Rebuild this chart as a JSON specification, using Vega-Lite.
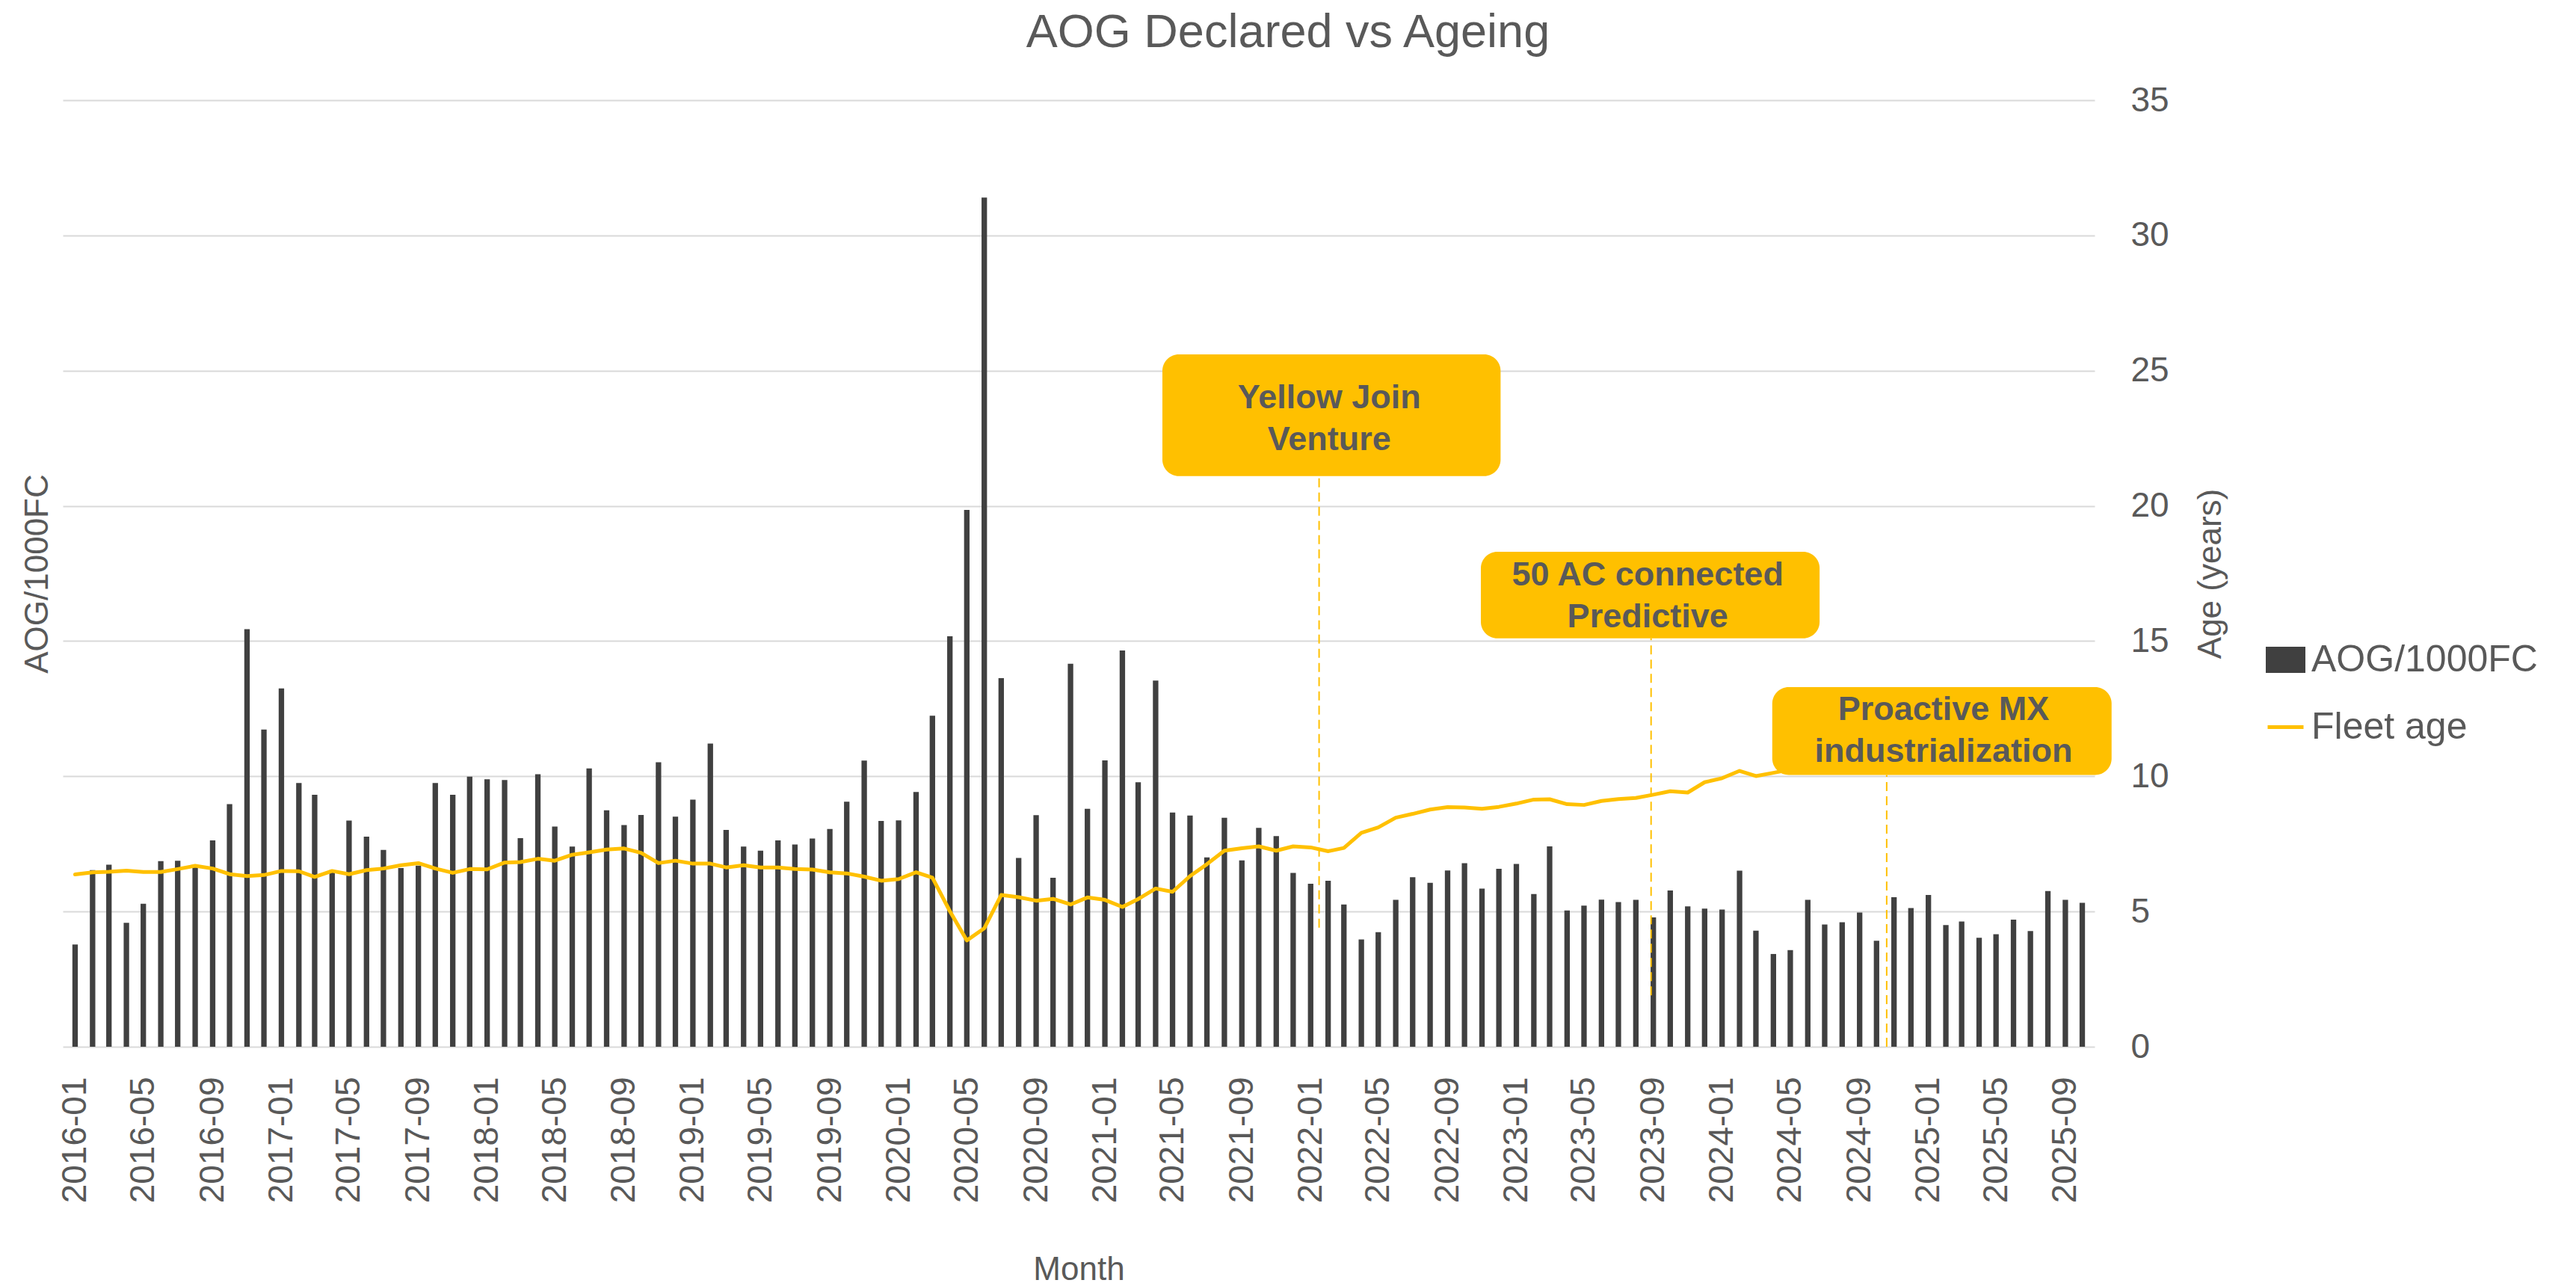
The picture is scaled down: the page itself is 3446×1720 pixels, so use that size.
{
  "$schema": "https://vega.github.io/schema/vega-lite/v6.json",
  "autosize": {"type": "none"},
  "width": 2718,
  "height": 1266,
  "padding": {"left": 84, "top": 134, "right": 644, "bottom": 320},
  "background": "white",
  "title": {"text": "AOG Declared vs Ageing", "frame": "group", "anchor": "middle", "dx": 280, "offset": 0, "dy": 15, "baseline": "alphabetic", "fontSize": 63, "font": "Liberation Sans", "fontWeight": "normal", "color": "#595959"},
  "config": {"view": {"stroke": null}, "font": "Liberation Sans"},
  "datasets": {
    "months": [
      {"month": "2016-01", "aog": 3.78, "age": 6.37}, {"month": "2016-02", "aog": 6.53, "age": 6.45}, {"month": "2016-03", "aog": 6.73, "age": 6.47}, {"month": "2016-04", "aog": 4.58, "age": 6.51},
      {"month": "2016-05", "aog": 5.29, "age": 6.46}, {"month": "2016-06", "aog": 6.86, "age": 6.46}, {"month": "2016-07", "aog": 6.88, "age": 6.57}, {"month": "2016-08", "aog": 6.65, "age": 6.69},
      {"month": "2016-09", "aog": 7.63, "age": 6.59}, {"month": "2016-10", "aog": 8.97, "age": 6.38}, {"month": "2016-11", "aog": 15.44, "age": 6.31}, {"month": "2016-12", "aog": 11.73, "age": 6.35},
      {"month": "2017-01", "aog": 13.25, "age": 6.50}, {"month": "2017-02", "aog": 9.75, "age": 6.49}, {"month": "2017-03", "aog": 9.32, "age": 6.28}, {"month": "2017-04", "aog": 6.53, "age": 6.50},
      {"month": "2017-05", "aog": 8.36, "age": 6.38}, {"month": "2017-06", "aog": 7.77, "age": 6.53}, {"month": "2017-07", "aog": 7.28, "age": 6.59}, {"month": "2017-08", "aog": 6.61, "age": 6.71},
      {"month": "2017-09", "aog": 6.70, "age": 6.79}, {"month": "2017-10", "aog": 9.75, "age": 6.59}, {"month": "2017-11", "aog": 9.32, "age": 6.43}, {"month": "2017-12", "aog": 9.99, "age": 6.57},
      {"month": "2018-01", "aog": 9.89, "age": 6.56}, {"month": "2018-02", "aog": 9.86, "age": 6.81}, {"month": "2018-03", "aog": 7.71, "age": 6.83}, {"month": "2018-04", "aog": 10.08, "age": 6.95},
      {"month": "2018-05", "aog": 8.14, "age": 6.88}, {"month": "2018-06", "aog": 7.40, "age": 7.10}, {"month": "2018-07", "aog": 10.29, "age": 7.19}, {"month": "2018-08", "aog": 8.74, "age": 7.29},
      {"month": "2018-09", "aog": 8.20, "age": 7.33}, {"month": "2018-10", "aog": 8.57, "age": 7.17}, {"month": "2018-11", "aog": 10.52, "age": 6.79}, {"month": "2018-12", "aog": 8.51, "age": 6.88},
      {"month": "2019-01", "aog": 9.14, "age": 6.77}, {"month": "2019-02", "aog": 11.21, "age": 6.77}, {"month": "2019-03", "aog": 8.02, "age": 6.63}, {"month": "2019-04", "aog": 7.40, "age": 6.71},
      {"month": "2019-05", "aog": 7.25, "age": 6.63}, {"month": "2019-06", "aog": 7.63, "age": 6.63}, {"month": "2019-07", "aog": 7.48, "age": 6.57}, {"month": "2019-08", "aog": 7.70, "age": 6.55},
      {"month": "2019-09", "aog": 8.05, "age": 6.45}, {"month": "2019-10", "aog": 9.06, "age": 6.41}, {"month": "2019-11", "aog": 10.58, "age": 6.29}, {"month": "2019-12", "aog": 8.35, "age": 6.14},
      {"month": "2020-01", "aog": 8.37, "age": 6.20}, {"month": "2020-02", "aog": 9.42, "age": 6.45}, {"month": "2020-03", "aog": 12.24, "age": 6.25}, {"month": "2020-04", "aog": 15.18, "age": 5.01},
      {"month": "2020-05", "aog": 19.85, "age": 3.93}, {"month": "2020-06", "aog": 31.40, "age": 4.38}, {"month": "2020-07", "aog": 13.63, "age": 5.61}, {"month": "2020-08", "aog": 6.98, "age": 5.53},
      {"month": "2020-09", "aog": 8.56, "age": 5.40}, {"month": "2020-10", "aog": 6.25, "age": 5.47}, {"month": "2020-11", "aog": 14.16, "age": 5.26}, {"month": "2020-12", "aog": 8.80, "age": 5.52},
      {"month": "2021-01", "aog": 10.59, "age": 5.43}, {"month": "2021-02", "aog": 14.65, "age": 5.17}, {"month": "2021-03", "aog": 9.78, "age": 5.46}, {"month": "2021-04", "aog": 13.54, "age": 5.85},
      {"month": "2021-05", "aog": 8.66, "age": 5.73}, {"month": "2021-06", "aog": 8.55, "age": 6.31}, {"month": "2021-07", "aog": 7.00, "age": 6.75}, {"month": "2021-08", "aog": 8.47, "age": 7.25},
      {"month": "2021-09", "aog": 6.89, "age": 7.34}, {"month": "2021-10", "aog": 8.09, "age": 7.41}, {"month": "2021-11", "aog": 7.79, "age": 7.25}, {"month": "2021-12", "aog": 6.43, "age": 7.41},
      {"month": "2022-01", "aog": 6.03, "age": 7.37}, {"month": "2022-02", "aog": 6.14, "age": 7.23}, {"month": "2022-03", "aog": 5.26, "age": 7.35}, {"month": "2022-04", "aog": 3.97, "age": 7.91},
      {"month": "2022-05", "aog": 4.24, "age": 8.11}, {"month": "2022-06", "aog": 5.43, "age": 8.47}, {"month": "2022-07", "aog": 6.27, "age": 8.61}, {"month": "2022-08", "aog": 6.06, "age": 8.77},
      {"month": "2022-09", "aog": 6.52, "age": 8.86}, {"month": "2022-10", "aog": 6.79, "age": 8.85}, {"month": "2022-11", "aog": 5.85, "age": 8.80}, {"month": "2022-12", "aog": 6.58, "age": 8.87},
      {"month": "2023-01", "aog": 6.76, "age": 8.99}, {"month": "2023-02", "aog": 5.65, "age": 9.14}, {"month": "2023-03", "aog": 7.41, "age": 9.15}, {"month": "2023-04", "aog": 5.04, "age": 8.97},
      {"month": "2023-05", "aog": 5.22, "age": 8.94}, {"month": "2023-06", "aog": 5.44, "age": 9.09}, {"month": "2023-07", "aog": 5.35, "age": 9.16}, {"month": "2023-08", "aog": 5.43, "age": 9.20},
      {"month": "2023-09", "aog": 4.78, "age": 9.32}, {"month": "2023-10", "aog": 5.78, "age": 9.45}, {"month": "2023-11", "aog": 5.19, "age": 9.40}, {"month": "2023-12", "aog": 5.11, "age": 9.78},
      {"month": "2024-01", "aog": 5.07, "age": 9.93}, {"month": "2024-02", "aog": 6.51, "age": 10.20}, {"month": "2024-03", "aog": 4.29, "age": 10.01}, {"month": "2024-04", "aog": 3.43, "age": 10.13},
      {"month": "2024-05", "aog": 3.57, "age": 10.25}, {"month": "2024-06", "aog": 5.43}, {"month": "2024-07", "aog": 4.52}, {"month": "2024-08", "aog": 4.60},
      {"month": "2024-09", "aog": 4.96}, {"month": "2024-10", "aog": 3.92}, {"month": "2024-11", "aog": 5.53}, {"month": "2024-12", "aog": 5.13},
      {"month": "2025-01", "aog": 5.61}, {"month": "2025-02", "aog": 4.50}, {"month": "2025-03", "aog": 4.63}, {"month": "2025-04", "aog": 4.03},
      {"month": "2025-05", "aog": 4.16}, {"month": "2025-06", "aog": 4.70}, {"month": "2025-07", "aog": 4.28}, {"month": "2025-08", "aog": 5.76},
      {"month": "2025-09", "aog": 5.43}, {"month": "2025-10", "aog": 5.32}
    ],
    "notes": [
      {"boxStart": "2021-04-13", "boxEnd": "2022-12-04", "boxBottom": 21.1, "boxTop": 25.6, "ruleAt": "2022-01-16", "ruleBottom": 4.4, "textAt": "2022-02-03", "textY": 24.0, "label": "Yellow Join|Venture"},
      {"boxStart": "2022-10-30", "boxEnd": "2024-06-22", "boxBottom": 15.1, "boxTop": 18.3, "ruleAt": "2023-08-28", "ruleBottom": 1.9, "textAt": "2023-08-22", "textY": 17.44, "label": "50 AC connected|Predictive"},
      {"boxStart": "2024-03-30", "boxEnd": "2025-11-22", "boxBottom": 10.05, "boxTop": 13.3, "ruleAt": "2024-10-19", "ruleBottom": 0, "textAt": "2025-01-28", "textY": 12.47, "label": "Proactive MX|industrialization"}
    ]
  },
  "resolve": {"scale": {"y": "independent"}},
  "layer": [
    {
      "data": {"name": "months"},
      "mark": {"type": "bar", "width": 7.3, "color": "#404040"},
      "encoding": {
        "x": {
          "field": "month", "type": "temporal",
          "scale": {"type": "utc", "domain": [{"year": 2015, "month": 12, "date": 16, "hours": 18, "minutes": 43, "utc": true}, {"year": 2025, "month": 10, "date": 16, "hours": 5, "minutes": 17, "utc": true}]},
          "axis": {"title": "Month", "format": "%Y-%m", "tickCount": {"interval": "month", "step": 4}, "labelAngle": 270, "labelFontSize": 46, "labelColor": "#595959", "labelFont": "Liberation Sans", "labelPadding": 40, "labelOverlap": false, "labelFlush": false, "labelBound": false, "ticks": false, "domain": false, "grid": false, "titleFontSize": 44, "titleFont": "Liberation Sans", "titleFontWeight": "normal", "titleColor": "#595959", "titlePadding": 76}
        },
        "y": {
          "field": "aog", "type": "quantitative",
          "scale": {"domain": [0, 35], "nice": false, "zero": true},
          "axis": {"orient": "left", "title": "AOG/1000FC", "labels": false, "ticks": false, "domain": false, "grid": true, "gridColor": "#D9D9D9", "gridWidth": 2, "values": [0, 5, 10, 15, 20, 25, 30, 35], "titleFontSize": 44, "titleFont": "Liberation Sans", "titleFontWeight": "normal", "titleColor": "#595959", "titlePadding": 12}
        },
        "color": {
          "datum": "AOG/1000FC", "type": "nominal",
          "scale": {"domain": ["AOG/1000FC", "Fleet age"], "range": ["#404040", "#FFC000"]},
          "legend": {
            "title": null, "orient": "none", "legendX": 2947, "legendY": 722, "padding": 0,
            "labelFontSize": 50, "labelFont": "Liberation Sans", "labelColor": "#595959", "labelOffset": 8, "labelLimit": 0,
            "symbolSize": 2304, "rowPadding": 38,
            "encode": {"symbols": {"update": {
              "shape": {"signal": "datum.label === 'Fleet age' ? 'stroke' : 'M-1,-0.62H1V0.62H-1Z'"},
              "fill": {"signal": "datum.label === 'Fleet age' ? 'transparent' : '#404040'"},
              "stroke": {"signal": "datum.label === 'Fleet age' ? '#FFC000' : 'transparent'"},
              "strokeWidth": {"value": 5},
              "opacity": {"value": 1}
            }}}
          }
        }
      }
    },
    {
      "data": {"name": "months"},
      "mark": {"type": "line", "color": "#FFC000", "strokeWidth": 5, "strokeJoin": "round", "strokeCap": "round"},
      "encoding": {
        "x": {"field": "month", "type": "temporal"},
        "y": {
          "field": "age", "type": "quantitative",
          "scale": {"domain": [0, 35], "nice": false, "zero": true},
          "axis": {"orient": "right", "title": "Age (years)", "values": [0, 5, 10, 15, 20, 25, 30, 35], "grid": false, "ticks": false, "domain": false, "labelFontSize": 46, "labelFont": "Liberation Sans", "labelColor": "#595959", "labelPadding": 48, "titleAngle": 270, "titleFontSize": 44, "titleFont": "Liberation Sans", "titleFontWeight": "normal", "titleColor": "#595959", "titlePadding": 78}
        },
        "color": {"datum": "Fleet age", "type": "nominal"}
      }
    },
    {
      "data": {"name": "notes"},
      "mark": {"type": "rule", "color": "#FFC000", "strokeWidth": 2, "strokeDash": [12, 7]},
      "encoding": {
        "x": {"field": "ruleAt", "type": "temporal"},
        "y": {"field": "ruleBottom", "type": "quantitative", "scale": {"domain": [0, 35], "nice": false}, "axis": null},
        "y2": {"field": "boxBottom"}
      }
    },
    {
      "data": {"name": "notes"},
      "mark": {"type": "rect", "color": "#FFC000", "cornerRadius": 22},
      "encoding": {
        "x": {"field": "boxStart", "type": "temporal"},
        "x2": {"field": "boxEnd"},
        "y": {"field": "boxBottom", "type": "quantitative", "scale": {"domain": [0, 35], "nice": false}, "axis": null},
        "y2": {"field": "boxTop"}
      }
    },
    {
      "data": {"name": "notes"},
      "mark": {"type": "text", "color": "#595959", "font": "Liberation Sans", "fontSize": 45, "fontWeight": "bold", "align": "center", "baseline": "middle", "lineBreak": "|", "lineHeight": 56},
      "encoding": {
        "x": {"field": "textAt", "type": "temporal"},
        "y": {"field": "textY", "type": "quantitative", "scale": {"domain": [0, 35], "nice": false}, "axis": null},
        "text": {"field": "label", "type": "nominal"}
      }
    }
  ]
}
